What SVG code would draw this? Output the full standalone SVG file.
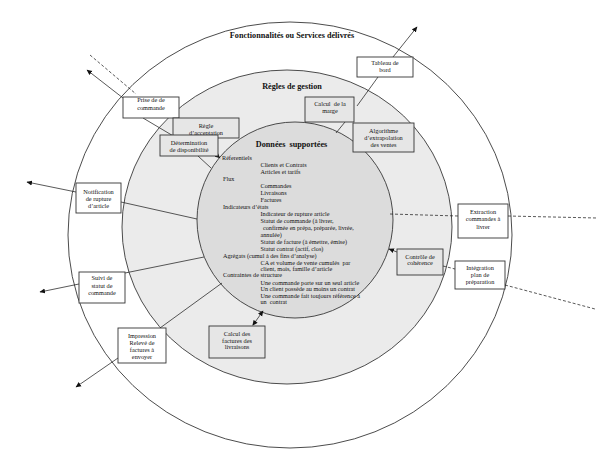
<svg xmlns="http://www.w3.org/2000/svg" width="600" height="458" viewBox="0 0 600 458">
<style>
text{font-family:"Liberation Serif","Times New Roman",serif;fill:#111}
.t{font-size:8.2px;font-weight:bold;text-anchor:middle;white-space:pre}
.b{font-size:6.3px;text-anchor:middle}
.d{font-size:6.2px;white-space:pre}
.ring{stroke:#383838;stroke-width:0.9}
.bw{fill:#fff;stroke:#333;stroke-width:0.9}
.bg{fill:#e6e6e6;stroke:#333;stroke-width:0.9}
.c line{stroke:#222;stroke-width:0.75}
.c .dash{stroke-dasharray:3 2}
</style>
<defs>
<marker id="ah" markerWidth="6" markerHeight="6" refX="5" refY="3" orient="auto" markerUnits="userSpaceOnUse">
<path d="M0,0.5 L5.5,3 L0,5.5 Z" fill="#111"/>
</marker>
<marker id="as" markerWidth="6" markerHeight="6" refX="1" refY="3" orient="auto" markerUnits="userSpaceOnUse">
<path d="M5.5,0.5 L0,3 L5.5,5.5 Z" fill="#111"/>
</marker>
</defs>
<rect width="600" height="458" fill="#fff"/>
<g id="rings">
<ellipse class="ring" cx="290" cy="235" rx="222" ry="213" fill="#fff"/>
<ellipse class="ring" cx="287" cy="227" rx="165" ry="157" fill="#ebebeb"/>
<circle class="ring" cx="295" cy="220" r="98" fill="#dcdcdc"/>
<text class="t" x="292" y="38">Fonctionnalités ou Services délivrés</text>
<text class="t" x="292" y="88.5">Règles de gestion</text>
<text class="t" x="291.5" y="147">Données  supportées</text>
</g>
<g class="c" id="connectors">
<line class="dash" x1="90" y1="55" x2="136" y2="94"/>
<line x1="123" y1="98" x2="87" y2="70" marker-end="url(#ah)"/>
<line x1="143" y1="118" x2="175" y2="137"/>
<line x1="198" y1="156" x2="211" y2="168"/>
<line x1="214" y1="153" x2="220" y2="158" marker-end="url(#ah)"/>
<line x1="393" y1="57" x2="417" y2="27" marker-end="url(#ah)"/>
<line x1="378" y1="77" x2="357" y2="106"/>
<line x1="345" y1="122" x2="336" y2="133"/>
<line x1="76" y1="192" x2="27" y2="182" marker-end="url(#ah)"/>
<line x1="121" y1="202" x2="197" y2="219"/>
<line x1="79" y1="284" x2="40" y2="292" marker-end="url(#ah)"/>
<line x1="125" y1="273" x2="204" y2="257"/>
<line x1="160" y1="328" x2="222" y2="283"/>
<line x1="118" y1="358" x2="76" y2="387" marker-end="url(#ah)"/>
<line x1="253" y1="325" x2="263" y2="311" marker-start="url(#as)" marker-end="url(#ah)"/>
<line class="dash" x1="390" y1="214" x2="458" y2="216"/>
<line class="dash" x1="508" y1="216" x2="597" y2="218"/>
<line x1="397" y1="252" x2="389" y2="249" marker-end="url(#ah)"/>
<line class="dash" x1="443" y1="266" x2="455" y2="269"/>
<line class="dash" x1="505" y1="285" x2="595" y2="309"/>
</g>
<g id="donnees">
<text class="d" x="222" y="160">Réferentiels</text>
<text class="d" x="260.5" y="167">Clients et Contrats</text>
<text class="d" x="260.5" y="174">Articles et tarifs</text>
<text class="d" x="223" y="181">Flux</text>
<text class="d" x="260.5" y="187.5">Commandes</text>
<text class="d" x="260.5" y="194.5">Livraisons</text>
<text class="d" x="260.5" y="201.5">Factures</text>
<text class="d" x="223" y="208.5">Indicateurs d’états</text>
<text class="d" x="260.5" y="215.5">Indicateur de rupture article</text>
<text class="d" x="260.5" y="222.5">Statut de commande (à livrer,</text>
<text class="d" x="263" y="229.5">confirmée en prépa, préparée, livrée,</text>
<text class="d" x="260.5" y="236.5">annulée)</text>
<text class="d" x="260.5" y="243.5">Statut de facture (à émettre, émise)</text>
<text class="d" x="260.5" y="250.5">Statut contrat (actif, clos)</text>
<text class="d" x="223" y="257.5">Agrégats (cumul à des fins d’analyse)</text>
<text class="d" x="260.5" y="264.5">CA et volume de vente cumulés  par</text>
<text class="d" x="260.5" y="270.5">client, mois, famille d’article</text>
<text class="d" x="223" y="277">Contraintes de structure</text>
<text class="d" x="260.5" y="284.5">Une commande porte sur un seul article</text>
<text class="d" x="260.5" y="291">Un client possède au moins un contrat</text>
<text class="d" x="260.5" y="297.5">Une commande fait toujours référence à</text>
<text class="d" x="260.5" y="304">un  contrat</text>
</g>
<g id="prise"><rect class="bw" x="123" y="97" width="56" height="21"/><text class="b" x="151" y="102">Prise de de</text><text class="b" x="151" y="109.5">commande</text></g>
<g id="regle"><rect class="bg" x="173" y="118" width="66" height="20"/><text class="b" x="206" y="127.5">Règle</text><text class="b" x="206" y="134.5">d’acceptation</text></g>
<g id="determination"><rect class="bg" x="160" y="135" width="58" height="21"/><text class="b" x="189" y="145">Détermination</text><text class="b" x="189" y="152">de disponibilité</text></g>
<g id="tableau"><rect class="bw" x="357" y="57" width="56" height="20"/><text class="b" x="385" y="65">Tableau de</text><text class="b" x="385" y="72">bord</text></g>
<g id="marge"><rect class="bg" x="305" y="97" width="49" height="25"/><text class="b" x="330" y="106" style="white-space:pre">Calcul  de la</text><text class="b" x="330" y="112.5">marge</text></g>
<g id="algorithme"><rect class="bg" x="353" y="123" width="61" height="29"/><text class="b" x="383.5" y="132.5">Algorithme</text><text class="b" x="383.5" y="140">d’extrapolation</text><text class="b" x="383.5" y="147">des ventes</text></g>
<g id="notification"><rect class="bw" x="76" y="183" width="45" height="30"/><text class="b" x="98.5" y="193.5">Notification</text><text class="b" x="98.5" y="201">de rupture</text><text class="b" x="98.5" y="208">d’article</text></g>
<g id="suivi"><rect class="bw" x="79" y="272" width="46" height="31"/><text class="b" x="102" y="280">Suivi de</text><text class="b" x="102" y="288">statut de</text><text class="b" x="102" y="295">commande</text></g>
<g id="impression"><rect class="bw" x="118" y="328" width="48" height="35"/><text class="b" x="142" y="338">Impression</text><text class="b" x="142" y="345">Relevé de</text><text class="b" x="142" y="352">factures à</text><text class="b" x="142" y="359">envoyer</text></g>
<g id="factures"><rect class="bg" x="209" y="326" width="56" height="32"/><text class="b" x="237" y="336">Calcul des</text><text class="b" x="237" y="342.5">factures des</text><text class="b" x="237" y="349">livraisons</text></g>
<g id="extraction"><rect class="bw" x="458" y="204" width="50" height="34"/><text class="b" x="483" y="214">Extraction</text><text class="b" x="483" y="221">commandes à</text><text class="b" x="483" y="228.5">livrer</text></g>
<g id="controle"><rect class="bg" x="397" y="249" width="46" height="26"/><text class="b" x="420" y="258.5">Contrôle de</text><text class="b" x="420" y="264.5">cohérence</text></g>
<g id="integration"><rect class="bw" x="455" y="261" width="50" height="28"/><text class="b" x="480" y="270">Intégration</text><text class="b" x="480" y="277">plan de</text><text class="b" x="480" y="283.5">préparation</text></g>
</svg>
